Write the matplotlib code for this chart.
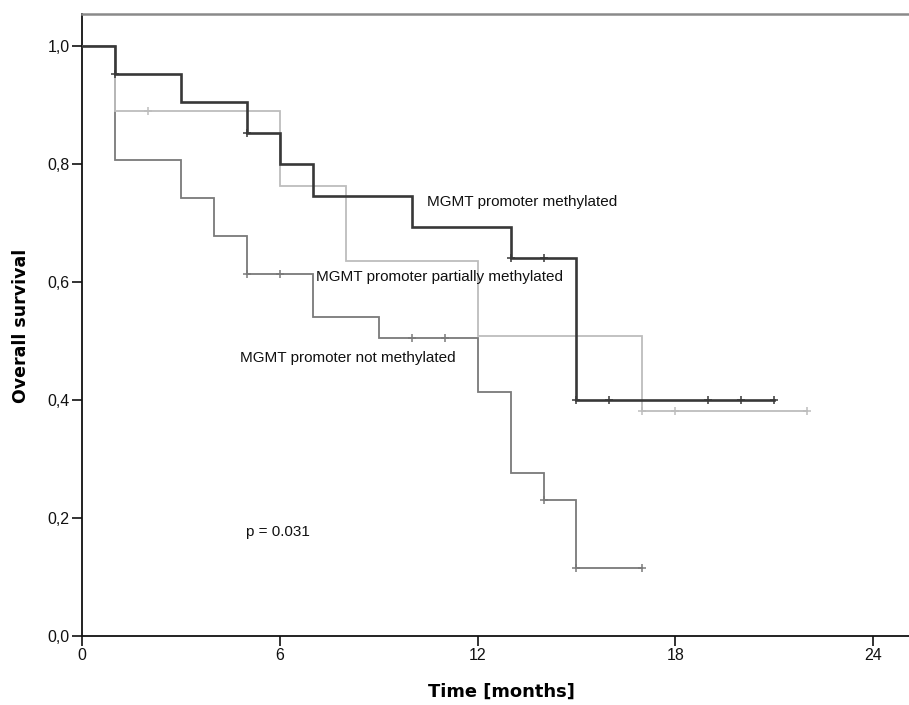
import numpy as np
import matplotlib
matplotlib.use("Agg")
import matplotlib.pyplot as plt

# Kaplan-Meier step data (time in months, survival)
meth_t = [0, 1, 3, 5, 6, 7, 10, 13, 15, 21]
meth_s = [1.0, 0.952, 0.905, 0.852, 0.800, 0.745, 0.693, 0.640, 0.400, 0.400]
meth_cens = [1, 5, 13, 14, 15, 16, 19, 20, 21]

part_t = [0, 1, 6, 8, 12, 17, 22]
part_s = [1.0, 0.889, 0.762, 0.635, 0.508, 0.381, 0.381]
part_cens = [2, 17, 18, 22]

notm_t = [0, 1, 3, 4, 5, 7, 9, 12, 13, 14, 15, 17]
notm_s = [1.0, 0.806, 0.742, 0.677, 0.613, 0.541, 0.505, 0.413, 0.276, 0.230, 0.115, 0.115]
notm_cens = [5, 6, 10, 11, 14, 15, 17]

x_ticks = [0, 6, 12, 18, 24]
y_ticks = [0.0, 0.2, 0.4, 0.6, 0.8, 1.0]
y_ticklabels = ["0,0", "0,2", "0,4", "0,6", "0,8", "1,0"]

labels = {
    "meth": "MGMT promoter methylated",
    "part": "MGMT promoter partially methylated",
    "notm": "MGMT promoter not methylated",
}
p_text = "p = 0.031"

plt.rcParams["font.family"] = ["Liberation Sans", "DejaVu Sans"]

W, H = 909, 705
fig = plt.figure(figsize=(W / 100, H / 100), dpi=100)
# axes right edge sits a little past the image edge, as in the original
ax = fig.add_axes([82 / W, (H - 636) / H, (920 - 82) / W, (636 - 14) / H])


def km_curve(t, s, cens, color, lw, z):
    ax.step(t, s, where="post", color=color, lw=lw, zorder=z, solid_joinstyle="miter")
    t = np.asarray(t)
    s = np.asarray(s)
    idx = np.searchsorted(t, cens, side="right") - 1
    ax.plot(cens, s[idx], ls="none", marker="+", ms=6, mew=1.1, color=color, zorder=z)


km_curve(notm_t, notm_s, notm_cens, "#7a7a7a", 1.3, 2)
km_curve(part_t, part_s, part_cens, "#bdbdbd", 1.3, 3)
km_curve(meth_t, meth_s, meth_cens, "#383838", 1.9, 4)

ax.text(10.48, 0.736, labels["meth"], fontsize=11, va="center", ha="left", color="#111111")
ax.text(7.11, 0.608, labels["part"], fontsize=11, va="center", ha="left", color="#111111")
ax.text(4.79, 0.471, labels["notm"], fontsize=11, va="center", ha="left", color="#111111")
ax.text(4.97, 0.177, p_text, fontsize=11, va="center", ha="left", color="#111111")

ax.set_xlim(0, 25.42)
ax.set_ylim(0, 1.054)
ax.set_xticks(x_ticks)
ax.set_yticks(y_ticks)
ax.set_yticklabels(y_ticklabels)
ax.tick_params(direction="out", length=7, width=1.2, labelsize=11.5, pad=2, colors="#111111")

ax.spines["right"].set_visible(False)
ax.spines["top"].set_color("#8a8a8a")
ax.spines["top"].set_linewidth(1.8)
for side in ("left", "bottom"):
    ax.spines[side].set_color("#111111")
    ax.spines[side].set_linewidth(1.3)

fig.text(501 / W, 1 - 692 / H, "Time [months]", fontsize=12.9, fontweight="bold",
         family="DejaVu Sans", ha="center", va="center")
fig.text(21 / W, 1 - 326 / H, "Overall survival", fontsize=12.5, fontweight="bold",
         family="DejaVu Sans", ha="center", va="center", rotation=90)

fig.savefig("out.png", dpi=100)
